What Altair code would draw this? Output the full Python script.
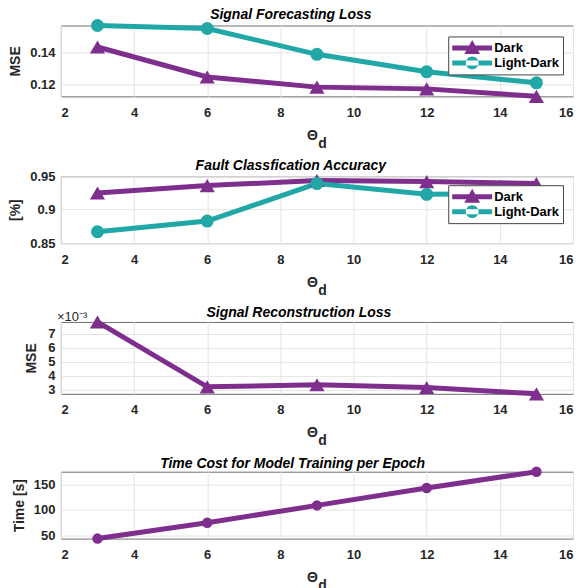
import altair as alt
import pandas as pd

# ---------------- data ----------------
theta_d = [3, 6, 9, 12, 15]
series_names = ["Dark", "Light-Dark"]
series_colors = ["#7E2F8E", "#21A8A6"]
series_shapes = ["triangle-up", "circle"]
series_sizes = [230, 170]

forecast_dark = [0.1435, 0.1247, 0.1183, 0.1172, 0.1125]
forecast_light = [0.1570, 0.1551, 0.1389, 0.1279, 0.1210]

acc_dark = [0.925, 0.936, 0.9436, 0.942, 0.939]
acc_light = [0.867, 0.883, 0.939, 0.923, 0.924]

recon_dark = [0.00785, 0.0032, 0.00335, 0.00315, 0.0027]

time_dark = [44, 75, 109, 143, 175]

x_ticks = [2, 4, 6, 8, 10, 12, 14, 16]
forecast_ticks = [0.12, 0.14]
acc_ticks = [0.85, 0.9, 0.95]
recon_ticks = [0.003, 0.004, 0.005, 0.006, 0.007]
time_ticks = [50, 100, 150]

panel_titles = [
    "Signal Forecasting Loss",
    "Fault Classfication Accuracy",
    "Signal Reconstruction Loss",
    "Time Cost for Model Training per Epoch",
]
y_titles = ["MSE", "[%]", "MSE", "Time [s]"]
x_title = ["\u0398\u2800", "\u2800d"]
exponent_label = ["\u00d710\u207b\u00b3"]

FONT = "Liberation Sans"
W = 513

# legend symbols: line + marker (custom paths, unit = sqrt(size)/2)
legend_paths = [
    "M-1,-0.33H4.33V0.33H-1Z M1.67,-1.05L2.72,0.8H0.62Z",
    "M-1,-0.33H4.33V0.33H-1Z M0.82,0 A0.85,0.85 0 1,0 2.52,0 A0.85,0.85 0 1,0 0.82,0 Z",
]


def long_df(values_by_series):
    rows = []
    for name, vals in values_by_series:
        for x, v in zip(theta_d, vals):
            rows.append({"theta": x, "value": v, "series": name})
    return pd.DataFrame(rows)


def x_enc():
    return alt.X(
        "theta:Q",
        scale=alt.Scale(domain=[2, 16], nice=False, zero=False),
        axis=alt.Axis(
            values=x_ticks,
            tickCount=20,
            format="d",
            labelPadding=10,
            labelOverlap=False,
            title=x_title,
            titleLineHeight=8,
            titlePadding=9,
        ),
    )


def y_enc(ytitle, domain, ticks, label_expr=None, tpad=7):
    ax = dict(values=ticks, tickCount=20, format="~g", labelPadding=6,
              labelOverlap=False, title=ytitle, titlePadding=tpad)
    if label_expr:
        ax["labelExpr"] = label_expr
    return alt.Y(
        "value:Q",
        scale=alt.Scale(domain=domain, nice=False, zero=False),
        axis=alt.Axis(**ax),
    )


def make_legend(legend_y):
    return alt.Legend(
        title=None,
        orient="none",
        legendX=388,
        legendY=legend_y,
        labelFont=FONT,
        labelFontWeight="bold",
        labelFontSize=13,
        labelColor="#000000",
        labelOffset=27,
        symbolSize=225,
        symbolStrokeWidth=0,
        symbolOpacity=1,
        rowPadding=0,
        padding=4,
        strokeColor="#444444",
        fillColor="#ffffff",
    )


def panel_title(text, off):
    return alt.TitleParams(text, offset=off, frame="bounds", anchor="middle")


def two_series_panel(df, title, ytitle, domain, ticks, h, legend_y, toff):
    base = alt.Chart(df)
    layers = []
    for name, col in zip(series_names, series_colors):
        layers.append(
            base.transform_filter(alt.datum.series == name)
            .mark_line(strokeWidth=5, color=col)
            .encode(x=x_enc(), y=y_enc(ytitle, domain, ticks))
        )
    for name, col, shp, sz in zip(series_names, series_colors, series_shapes, series_sizes):
        layers.append(
            base.transform_filter(alt.datum.series == name)
            .mark_point(filled=True, opacity=1, shape=shp, size=sz, color=col)
            .encode(x="theta:Q", y="value:Q")
        )
    leg = make_legend(legend_y)
    legend_layer = base.mark_point(filled=True, fillOpacity=0, size=225).encode(
        x="theta:Q",
        y="value:Q",
        color=alt.Color("series:N",
                        scale=alt.Scale(domain=series_names, range=series_colors),
                        legend=leg),
        shape=alt.Shape("series:N",
                        scale=alt.Scale(domain=series_names, range=legend_paths),
                        legend=leg),
    )
    layers.append(legend_layer)
    return alt.layer(*layers).properties(
        width=W, height=h, title=panel_title(title, toff)
    )


p1 = two_series_panel(
    long_df([("Dark", forecast_dark), ("Light-Dark", forecast_light)]),
    panel_titles[0], y_titles[0],
    [min(forecast_dark), max(forecast_light)], forecast_ticks, 71, 11, -7,
)
p2 = two_series_panel(
    long_df([("Dark", acc_dark), ("Light-Dark", acc_light)]),
    panel_titles[1], y_titles[1], [0.85, 0.95], acc_ticks, 67, 9, -3,
)

df3 = long_df([("Dark", recon_dark)])
b3 = alt.Chart(df3)
l3 = b3.mark_line(strokeWidth=5, color=series_colors[0]).encode(
    x=x_enc(),
    y=y_enc(y_titles[2], [min(recon_dark), max(recon_dark)], recon_ticks,
            "format(datum.value*1000, 'd')", tpad=9),
)
m3 = b3.mark_point(shape="triangle-up", filled=True, size=230, opacity=1,
                   color=series_colors[0]).encode(x="theta:Q", y="value:Q")
t3 = alt.Chart(pd.DataFrame({"t": exponent_label})).mark_text(
    font=FONT, fontSize=13, align="left", baseline="alphabetic", color="#262626"
).encode(text="t:N", x=alt.value(-4), y=alt.value(-1))
p3 = alt.layer(l3, m3, t3).properties(
    width=W, height=72, title=panel_title(panel_titles[2], -9)
)

df4 = long_df([("Dark", time_dark)])
b4 = alt.Chart(df4)
l4 = b4.mark_line(strokeWidth=5, color=series_colors[0]).encode(
    x=x_enc(),
    y=y_enc(y_titles[3], [min(time_dark), max(time_dark)], time_ticks),
)
m4 = b4.mark_point(shape="circle", filled=True, size=110, opacity=1,
                   color=series_colors[0]).encode(x="theta:Q", y="value:Q")
p4 = alt.layer(l4, m4).properties(
    width=W, height=67, title=panel_title(panel_titles[3], -9)
)

chart = (
    alt.vconcat(p1, p2, p3, p4, spacing=7)
    .resolve_scale(color="independent", shape="independent")
    .resolve_legend(color="independent", shape="independent")
    .properties(padding={"left": 0, "top": -1, "right": 0, "bottom": 0})
    .configure_view(stroke="#6e6e6e", strokeWidth=1)
    .configure_axis(
        labelFont=FONT,
        labelFontWeight="bold",
        labelFontSize=13,
        labelColor="#262626",
        titleFont=FONT,
        titleFontWeight="bold",
        titleFontSize=14,
        titleColor="#262626",
        grid=True,
        gridColor="#e3e3e3",
        domain=False,
        ticks=False,
    )
    .configure_title(font=FONT, fontWeight="bold", fontStyle="italic",
                     fontSize=14, color="#000000")
)

chart.save("out.html", embed_options={"renderer": "svg", "actions": False})
